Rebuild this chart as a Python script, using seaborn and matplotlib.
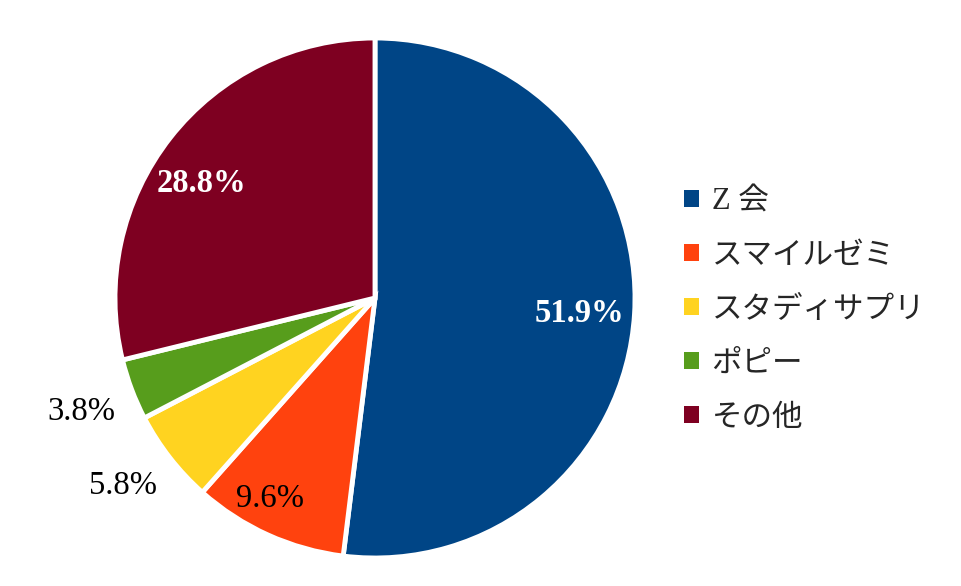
import numpy as np
import matplotlib
matplotlib.use("Agg")
import matplotlib.pyplot as plt
import seaborn as sns

labels = ["Z 会", "スマイルゼミ", "スタディサプリ", "ポピー", "その他"]
values = [51.9, 9.6, 5.8, 3.8, 28.8]
pct_labels = ["51.9%", "9.6%", "5.8%", "3.8%", "28.8%"]
colors = ["#004586", "#FF420E", "#FFD320", "#579D1C", "#7E0021"]

sns.set_theme(style="white")
plt.rcParams['font.family'] = ['Liberation Serif', 'Noto Sans CJK JP']

fig = plt.figure(figsize=(9.62, 5.86), dpi=100)
ax = fig.add_axes([115/962, 28/586, 520/962, 520/586])
palette = sns.color_palette(colors)
wedges, _ = ax.pie(values, colors=palette, startangle=90, counterclock=False,
                   wedgeprops=dict(edgecolor="white", linewidth=3.5))
ax.set_xlim(-1, 1)
ax.set_ylim(-1, 1)
ax.set_aspect("equal")
ax.axis("off")

dist = [0.79, 0.87, 1.21, 1.21, 0.80]
ang_off = [-0.8, -3.3, -1.2, 0.6, 4.8]
tcol = ["white", "black", "black", "black", "white"]
weights = ["bold", "normal", "normal", "normal", "bold"]
for w, lab, d, o, c, wt in zip(wedges, pct_labels, dist, ang_off, tcol, weights):
    ang = np.deg2rad((w.theta1 + w.theta2) / 2 + o)
    ax.text(d*np.cos(ang), d*np.sin(ang), lab, ha="center", va="center",
            color=c, fontsize=23.5, fontweight=wt, family="Liberation Serif")

leg = ax.legend(wedges, labels, loc="center left",
                bbox_to_anchor=(684/962, 1 - 310/586), bbox_transform=fig.transFigure,
                frameon=False, fontsize=22, labelspacing=0.82, handlelength=0.5,
                handleheight=0.5, handletextpad=0.4, borderpad=0, borderaxespad=0)
for h in leg.legend_handles:
    h.set_edgecolor("none")

fig.savefig("out.png", dpi=100, facecolor="white")
